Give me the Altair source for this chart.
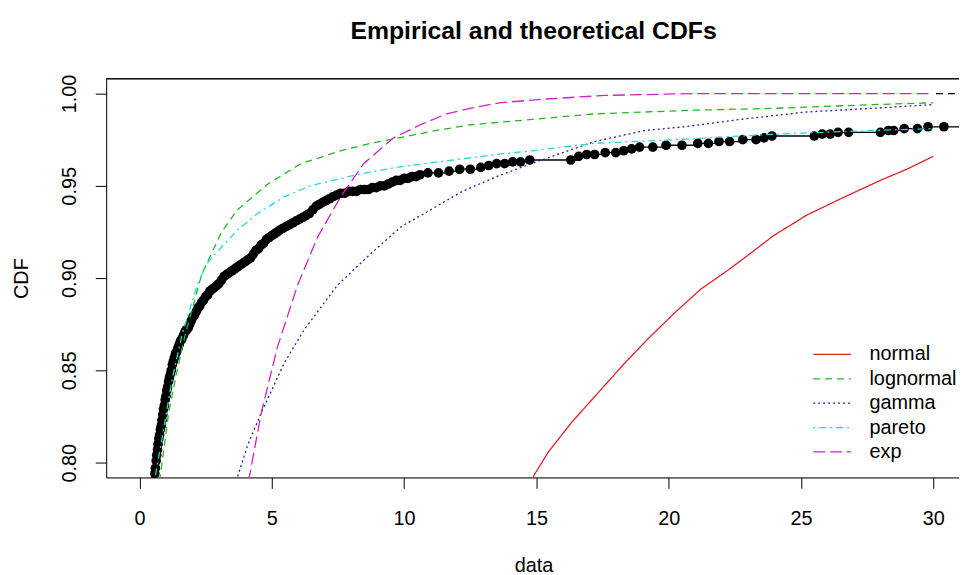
import altair as alt
import pandas as pd

# ---------------- data ----------------
EMP_X = [0.55, 0.58, 0.60, 0.63, 0.65, 0.68, 0.70, 0.73, 0.76, 0.79, 0.82, 0.85, 0.88, 0.91,
         0.94, 0.97, 1.00, 1.03, 1.06, 1.10, 1.13, 1.17, 1.20, 1.24, 1.28, 1.32, 1.36, 1.40,
         1.45, 1.50, 1.55, 1.60, 1.66, 1.72, 1.78, 1.84, 1.90, 1.96, 2.02, 2.08, 2.15, 2.22,
         2.28, 2.35, 2.42, 2.50, 2.58, 2.66, 2.75, 2.84, 2.92, 3.00, 3.10, 3.20, 3.30, 3.40,
         3.50, 3.60, 3.70, 3.80, 3.90, 4.00, 4.10, 4.20, 4.30, 4.40, 4.50, 4.60, 4.70, 4.80,
         4.90, 5.00, 5.10, 5.20, 5.30, 5.42, 5.55, 5.68, 5.80, 5.92, 6.05, 6.18, 6.30, 6.42,
         6.55, 6.68, 6.80, 6.92, 7.05, 7.18, 7.30, 7.45, 7.60, 7.75, 7.90, 8.05, 8.20, 8.35,
         8.50, 8.65, 8.80, 8.95, 9.10, 9.25, 9.40, 9.55, 9.70, 9.85, 10.0, 10.15, 10.3, 10.45,
         10.6, 10.9, 11.3, 11.7, 12.1, 12.5, 12.9, 13.2, 13.5, 13.8, 14.1, 14.4, 14.75, 16.3,
         16.6, 16.9, 17.2, 17.6, 18.0, 18.3, 18.6, 18.9, 19.4, 19.9, 20.5, 21.1, 21.5, 21.9,
         22.3, 22.8, 23.3, 23.6, 23.9, 25.5, 25.8, 26.1, 26.4, 26.8, 28.0, 28.3, 28.5, 28.9,
         29.4, 29.8, 30.4, 31.2]
EMP_Y = [0.790, 0.794, 0.797, 0.801, 0.804, 0.807, 0.810, 0.813, 0.815, 0.818, 0.820, 0.823,
         0.826, 0.829, 0.831, 0.834, 0.836, 0.839, 0.841, 0.844, 0.846, 0.848, 0.850, 0.853,
         0.855, 0.857, 0.859, 0.860, 0.862, 0.864, 0.866, 0.867, 0.869, 0.871, 0.872, 0.873,
         0.875, 0.877, 0.879, 0.880, 0.882, 0.884, 0.885, 0.887, 0.888, 0.890, 0.891, 0.893,
         0.894, 0.895, 0.896, 0.897, 0.899, 0.901, 0.902, 0.903, 0.904, 0.905, 0.906, 0.907,
         0.908, 0.909, 0.910, 0.911, 0.913, 0.915, 0.916, 0.918, 0.919, 0.921, 0.922, 0.923,
         0.924, 0.925, 0.926, 0.927, 0.928, 0.929, 0.930, 0.931, 0.932, 0.933, 0.934, 0.935,
         0.937, 0.939, 0.940, 0.941, 0.942, 0.943, 0.944, 0.945, 0.946, 0.946, 0.947, 0.947,
         0.947, 0.948, 0.948, 0.948, 0.949, 0.949, 0.950, 0.950, 0.951, 0.952, 0.953, 0.953,
         0.954, 0.954, 0.955, 0.955, 0.956, 0.957, 0.957, 0.958, 0.959, 0.959, 0.960, 0.961,
         0.962, 0.962, 0.963, 0.963, 0.964, 0.964, 0.966, 0.967, 0.967, 0.968, 0.968, 0.969,
         0.970, 0.971, 0.971, 0.972, 0.972, 0.973, 0.973, 0.974, 0.974, 0.975, 0.975, 0.976,
         0.977, 0.977, 0.978, 0.978, 0.979, 0.979, 0.979, 0.980, 0.980, 0.981, 0.981, 0.982,
         0.982, 0.983]

NORMAL_X = [14.85, 14.9, 15.46, 16.34, 17.34, 18.34, 19.21, 20.21, 21.21, 22.21, 22.96, 23.96,
            25.2, 26.5, 28.0, 29.0, 30.0]
NORMAL_Y = [0.790, 0.793, 0.806, 0.822, 0.838, 0.854, 0.867, 0.881, 0.894, 0.904, 0.912, 0.923,
            0.934, 0.943, 0.953, 0.959, 0.966]

LOGNORMAL_X = [0.75, 0.79, 1.10, 1.41, 1.72, 2.35, 3.10, 3.70, 4.85, 6.10, 7.60, 8.72, 9.80,
               11.22, 12.47, 14.85, 17.2, 19.1, 21.0, 24.0, 27.7, 30.0]
LOGNORMAL_Y = [0.790, 0.793, 0.827, 0.849, 0.869, 0.902, 0.925, 0.937, 0.951, 0.962, 0.969,
               0.973, 0.976, 0.980, 0.983, 0.986, 0.989, 0.990, 0.991, 0.992, 0.994, 0.995]

GAMMA_X = [3.65, 3.72, 4.10, 4.60, 5.47, 6.22, 7.47, 8.72, 9.9, 11.0, 12.2, 13.5, 14.8, 16.0,
           17.2, 19.1, 20.6, 22.7, 25.2, 27.7, 30.0]
GAMMA_Y = [0.790, 0.793, 0.810, 0.827, 0.854, 0.872, 0.896, 0.913, 0.928, 0.937, 0.947, 0.955,
           0.962, 0.968, 0.974, 0.980, 0.982, 0.986, 0.990, 0.992, 0.994]

PARETO_X = [0.57, 0.60, 0.91, 1.23, 1.60, 2.22, 2.60, 3.70, 4.46, 5.46, 6.46, 8.20, 9.70,
            11.85, 13.5, 14.85, 17.2, 20.2, 24.0, 27.7, 30.0]
PARETO_Y = [0.790, 0.793, 0.818, 0.845, 0.869, 0.898, 0.909, 0.926, 0.935, 0.944, 0.950, 0.956,
            0.960, 0.964, 0.967, 0.969, 0.973, 0.975, 0.978, 0.980, 0.981]

EXP_X = [4.10, 4.16, 4.60, 5.22, 5.97, 6.72, 7.60, 8.47, 9.60, 10.60, 11.6, 12.5, 13.6, 15.3,
         17.6, 21.0, 30.0]
EXP_Y = [0.790, 0.793, 0.827, 0.863, 0.896, 0.922, 0.944, 0.962, 0.976, 0.983, 0.989, 0.992,
         0.995, 0.997, 0.999, 1.000, 1.000]

TOPLINE_X = [30.1, 31.2]
TOPLINE_Y = [1.0, 1.0]

DIST_NAMES = ["normal", "lognormal", "gamma", "pareto", "exp"]
DIST_COLORS = ["#E0202A", "#22B822", "#2222AA", "#22D8D8", "#D020D0"]
DIST_DASHES = [[1, 0], [7, 5], [2, 3], [2, 4, 7, 4], [12, 5]]

X_TICKS = [0, 5, 10, 15, 20, 25, 30]
Y_TICKS = [0.80, 0.85, 0.90, 0.95, 1.00]

FONT = "Liberation Sans"
W, H = 860, 402

# ---------------- tables ----------------
emp = pd.DataFrame({"x": EMP_X, "y": EMP_Y})
series = {"normal": (NORMAL_X, NORMAL_Y), "lognormal": (LOGNORMAL_X, LOGNORMAL_Y),
          "gamma": (GAMMA_X, GAMMA_Y), "pareto": (PARETO_X, PARETO_Y), "exp": (EXP_X, EXP_Y)}
rows = []
for name, (xs, ys) in series.items():
    for i, (a, b) in enumerate(zip(xs, ys)):
        rows.append({"name": name, "x": a, "y": b, "i": i})
curves = pd.DataFrame(rows)
top = pd.DataFrame({"x": TOPLINE_X, "y": TOPLINE_Y})
leg = pd.DataFrame({"name": DIST_NAMES})

xscale = alt.Scale(domain=[-1.26, 30.97], nice=False, zero=False)
yscale = alt.Scale(domain=[0.792, 1.008], nice=False, zero=False)
color = alt.Color("name:N", scale=alt.Scale(domain=DIST_NAMES, range=DIST_COLORS), legend=None)
dash = alt.StrokeDash("name:N", scale=alt.Scale(domain=DIST_NAMES, range=DIST_DASHES), legend=None)

xaxis = alt.Axis(values=X_TICKS, format="d", title="data", tickSize=11, labelPadding=36,
                 labelBaseline="alphabetic", labelFontSize=20, titleFontSize=20,
                 titleFontWeight="normal", titleX=431, titleY=95, titleBaseline="alphabetic",
                 titleAlign="center", grid=False, domainColor="black", tickColor="black",
                 labelColor="black", titleColor="black", labelFlush=False)
yaxis = alt.Axis(values=Y_TICKS, format=".2f", title="CDF", tickSize=11, labelPadding=20,
                 labelAngle=270, labelAlign="center", labelBaseline="alphabetic",
                 labelFontSize=20, titleFontSize=20, titleFontWeight="normal",
                 titleAngle=270, titleX=-79, titleY=201, titleBaseline="alphabetic",
                 titleAlign="center", grid=False, domainColor="black", tickColor="black",
                 labelColor="black", titleColor="black", labelFlush=False)

emp_line = alt.Chart(emp).mark_line(color="black", strokeWidth=1.3, interpolate="step-after",
                                    clip=True).encode(
    x=alt.X("x:Q", scale=xscale, axis=xaxis), y=alt.Y("y:Q", scale=yscale, axis=yaxis))
emp_pts = alt.Chart(emp).mark_point(filled=True, color="black", opacity=1, size=95,
                                    clip=True).encode(
    x=alt.X("x:Q", scale=xscale), y=alt.Y("y:Q", scale=yscale))
curve_lines = alt.Chart(curves).mark_line(strokeWidth=1.3, clip=True).encode(
    x=alt.X("x:Q", scale=xscale), y=alt.Y("y:Q", scale=yscale),
    color=color, strokeDash=dash, detail="name:N", order="i:Q")
top_dash = alt.Chart(top).mark_line(color="black", strokeWidth=1.3, strokeDash=[7, 5],
                                    clip=True).encode(
    x=alt.X("x:Q", scale=xscale), y=alt.Y("y:Q", scale=yscale))
border = alt.Chart(top).mark_rule(color="black", strokeWidth=1).encode(
    x=alt.value(0), x2=alt.value(W), y=alt.value(0))

main = alt.layer(emp_line, emp_pts, curve_lines, top_dash, border)

legy = alt.Y("name:N", scale=alt.Scale(type="point", domain=DIST_NAMES, range=[278, 376.3],
                                       padding=0), axis=None)
leg_rule = alt.Chart(leg).mark_rule(strokeWidth=1.3).encode(
    x=alt.value(713), x2=alt.value(751), y=legy, color=color, strokeDash=dash)
leg_text = alt.Chart(leg).mark_text(align="left", baseline="middle", fontSize=20, font=FONT,
                                    color="black").encode(
    x=alt.value(769.7), y=legy, text="name:N")
legend = alt.layer(leg_rule, leg_text)

chart = alt.layer(main, legend).resolve_scale(y="independent").properties(
    width=W, height=H,
    title=alt.TitleParams("Empirical and theoretical CDFs", fontSize=25, fontWeight="bold",
                          font=FONT, anchor="middle", baseline="alphabetic", offset=11,
                          dx=1, color="black"),
    autosize=alt.AutoSizeParams(type="none"),
    padding={"left": 99, "top": 69, "right": 0, "bottom": 96},
).configure_view(stroke=None).configure_axis(labelFont=FONT, titleFont=FONT).configure(
    font=FONT, background="white")

chart.save("out.html", embed_options={"renderer": "svg", "actions": False})
